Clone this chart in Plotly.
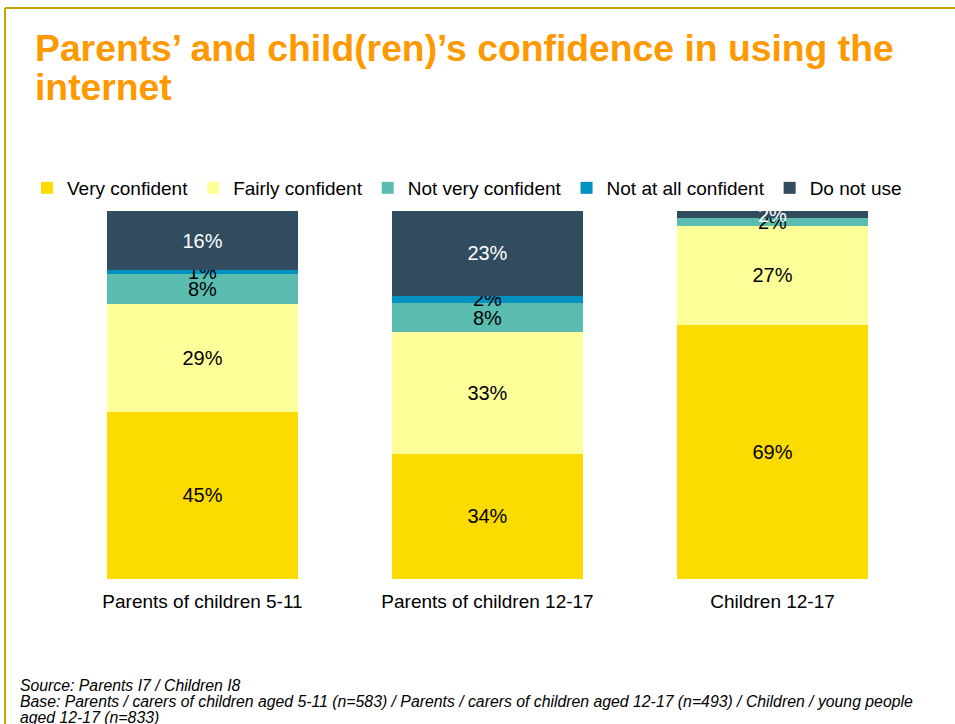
import plotly.graph_objects as go

categories = ["Parents of children 5-11", "Parents of children 12-17", "Children 12-17"]
series_names = ["Very confident", "Fairly confident", "Not very confident",
                "Not at all confident", "Do not use"]
very_confident = [45, 34, 69]
fairly_confident = [29, 33, 27]
not_very_confident = [8, 8, 2]
not_at_all_confident = [1, 2, 0]
do_not_use = [16, 23, 2]

title_lines = ["Parents’ and child(ren)’s confidence in using the", "internet"]
footnotes = [
    "Source: Parents I7 / Children I8",
    "Base: Parents / carers of children aged 5-11 (n=583) / Parents / carers of children aged 12-17 (n=493) / Children / young people",
    "aged 12-17 (n=833)",
]

series_values = [very_confident, fairly_confident, not_very_confident,
                 not_at_all_confident, do_not_use]
colors = ["#FCDC00", "#FFFF99", "#5ABDB0", "#0092C0", "#314C5F"]
text_colors = ["#000000", "#000000", "#000000", "#000000", "#FFFFFF"]

FONT = "Liberation Sans, Arial, sans-serif"
TITLE_COLOR = "#FF9900"

fig = go.Figure()
for name, vals, col, tcol in zip(series_names, series_values, colors, text_colors):
    fig.add_trace(go.Bar(
        name=name, x=categories, y=vals,
        marker=dict(color=col, line=dict(width=0)),
        text=[f"{v}%" if v > 0 else "" for v in vals],
        textposition="inside", insidetextanchor="middle", textangle=0,
        constraintext="none",
        textfont=dict(family=FONT, size=20, color=tcol),
        hovertemplate="%{x}<br>" + name + ": %{text}<extra></extra>",
    ))

# plot area geometry (pixels)
L, R, T, B = 60, 40, 211, 145
W, H = 955 - L - R, 724 - T - B

def px_x(px):
    return (px - L) / W

def px_y(py):
    return (724 - B - py) / H

fig.update_layout(
    width=955, height=724,
    barmode="stack", barnorm="percent", bargap=0.33,
    margin=dict(l=L, r=R, t=T, b=B, autoexpand=False),
    paper_bgcolor="white", plot_bgcolor="white",
    font=dict(family=FONT, size=19, color="#000000"),
    title=dict(
        text=f"<b>{title_lines[0]}</b>",
        font=dict(family=FONT, size=37.3, color=TITLE_COLOR),
        x=35 / 955, xref="container", xanchor="left",
        y=1 - 48 / 724, yref="container", yanchor="middle",
    ),
    legend=dict(
        orientation="h", x=px_x(27), xanchor="left", y=px_y(188), yanchor="middle",
        font=dict(family=FONT, size=19, color="#000000"),
        traceorder="normal", bgcolor="rgba(0,0,0,0)", itemclick=False,
    ),
    uniformtext=dict(minsize=20, mode="show"),
    xaxis=dict(showgrid=False, showline=False, zeroline=False, ticks="",
               ticklabelstandoff=9,
               tickfont=dict(family=FONT, size=19, color="#000000")),
    yaxis=dict(range=[0, 100], visible=False, showgrid=False),
    showlegend=True,
)

# second title line
fig.add_annotation(
    text=f"<b>{title_lines[1]}</b>", xref="paper", yref="paper",
    x=px_x(35), y=px_y(87), xanchor="left", yanchor="middle", showarrow=False,
    xshift=-2,
    font=dict(family=FONT, size=37.3, color=TITLE_COLOR),
)

# slide frame lines
frame_color = "#C8A400"
fig.add_shape(type="line", xref="paper", yref="paper",
              x0=px_x(5), x1=px_x(960), y0=px_y(8), y1=px_y(8),
              line=dict(color=frame_color, width=2))
fig.add_shape(type="line", xref="paper", yref="paper",
              x0=px_x(5), x1=px_x(5), y0=px_y(8), y1=px_y(730),
              line=dict(color=frame_color, width=2))

for i, line in enumerate(footnotes):
    fig.add_annotation(
        text=f"<i>{line}</i>", xref="paper", yref="paper",
        x=px_x(20), y=px_y(685 + 16 * i), xanchor="left", yanchor="middle",
        xshift=-2,
        showarrow=False, font=dict(family=FONT, size=15.8, color="#000000"),
    )

fig.write_html("out.html", config={"displayModeBar": False},
               post_script="document.body.style.margin='0px';")
